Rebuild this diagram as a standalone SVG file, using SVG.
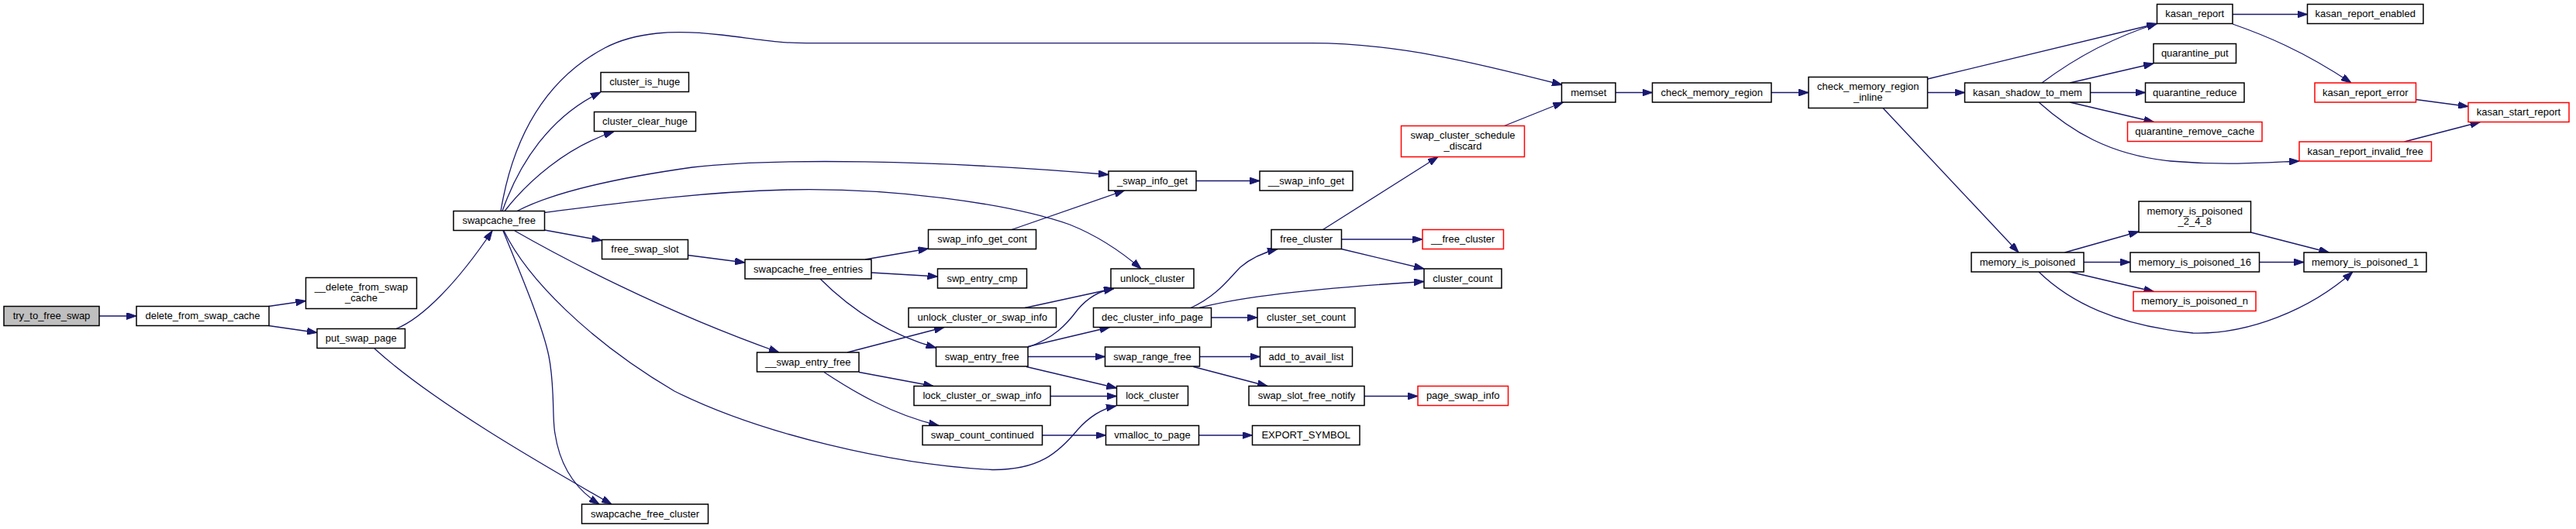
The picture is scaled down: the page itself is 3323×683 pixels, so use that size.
<svg xmlns="http://www.w3.org/2000/svg" width="3323" height="683" viewBox="0 0 3323 683">
<style>
.n rect{fill:#fff;stroke:#000;stroke-width:1.5}
.r rect{stroke:#f00}
.root rect{fill:#bfbfbf}
text{font-family:"Liberation Sans",Arial,Helvetica,sans-serif;font-size:13px;text-anchor:middle;fill:#000}
.e path{fill:none;stroke:#191970;stroke-width:1.3;marker-end:url(#a)}
</style>
<defs>
<marker id="a" markerUnits="userSpaceOnUse" viewBox="0 0 13 9" markerWidth="13" markerHeight="9" refX="13" refY="4.5" orient="auto">
<path d="M0,0 L13,4.5 L0,9 z" fill="#191970" stroke="#191970" stroke-width="1"/>
</marker>
</defs>
<rect width="3323" height="683" fill="#fff"/>
<g class="e" id="edges">
<path d="M128,408 L176,408"/>
<path d="M346.5,395.5 L394.5,388.5"/>
<path d="M346.5,420.5 L409,429.5"/>
<path d="M511,424.5 C545,411 590,365 635,298"/>
<path d="M483,450 C560,520 700,600 789,651"/>
<path d="M646,272.5 C658,200 690,110 780,62 C820,41 870,38 930,45 C980,51 1005,55.7 1040,55.7 L1692,55.7 C1800,55.7 1900,80 2015,109.5"/>
<path d="M648,272.5 C670,210 710,150 775,119"/>
<path d="M651,272.5 C680,235 730,190 792,170"/>
<path d="M667,272.5 C710,250 780,232 893,216 C1000,204 1200,206 1430,225.5"/>
<path d="M702,274.5 C800,262 900,248 1015,245 C1150,242 1300,262 1380,290 C1420,306 1450,328 1472,347"/>
<path d="M702.5,297 L776.5,310.5"/>
<path d="M664,298 C720,330 850,400 1005,455"/>
<path d="M650,298 C680,360 760,440 870,505 C980,560 1150,600 1280,606.5 C1340,607 1365,585 1390,555 C1405,538 1420,528 1440,524"/>
<path d="M649,298 C670,350 700,420 708,460 C716,500 712,540 716,560 C722,600 740,630 773,651"/>
<path d="M887.5,329.5 L961,339"/>
<path d="M1116,335 L1197.5,321"/>
<path d="M1124,352 L1209.5,357"/>
<path d="M1058,360 C1090,392 1140,430 1207.5,449"/>
<path d="M1305,296.5 L1450.5,246"/>
<path d="M1543,233.5 L1625,233.5"/>
<path d="M1093,455 L1218,422.5"/>
<path d="M1108,480.5 L1204,498.5"/>
<path d="M1063,480.5 C1100,505 1150,535 1211,549.5"/>
<path d="M1322,397.5 L1437,372.5"/>
<path d="M1326,448.5 C1360,436 1375,420 1390,400 C1405,382 1420,375 1437,372.5"/>
<path d="M1326,447.5 L1431.5,422.5"/>
<path d="M1326,460.5 L1425.5,460.5"/>
<path d="M1324,473.5 L1440.5,501"/>
<path d="M1355,511.5 L1440.5,511.5"/>
<path d="M1344.5,562 L1426.5,562"/>
<path d="M1546.5,562 L1615.5,562"/>
<path d="M1536,397.5 C1570,382 1585,360 1600,345 C1615,332 1630,326 1648,321.5"/>
<path d="M1547,397.5 C1600,383 1700,372 1837,363.5"/>
<path d="M1562.5,410 L1622,410"/>
<path d="M1547.5,460.5 L1625.5,460.5"/>
<path d="M1539.5,473.5 L1635,498.5"/>
<path d="M1760,511.5 L1829,511.5"/>
<path d="M1706.5,296.5 L1855,202.5"/>
<path d="M1730.5,309 L1835,309"/>
<path d="M1730.5,321.5 L1837,347"/>
<path d="M1940.5,162.5 L2016.5,132"/>
<path d="M2084,119.5 L2131.5,119.5"/>
<path d="M2285,119.5 L2333,119.5"/>
<path d="M2486.5,102 L2782.5,30.5"/>
<path d="M2486.5,119.5 L2534.5,119.5"/>
<path d="M2429,139.5 L2604,326"/>
<path d="M2634,107 C2670,80 2720,50 2782.5,30.5"/>
<path d="M2670,107 L2778,82"/>
<path d="M2696.5,119.5 L2767.5,119.5"/>
<path d="M2670,132 L2778.5,157.5"/>
<path d="M2630,132 C2670,168 2720,200 2800,208 C2870,214 2920,210 2966,208"/>
<path d="M2880,18.5 L2976.5,18.5"/>
<path d="M2880,31 C2920,45 2970,65 3033,107"/>
<path d="M3116.5,128.5 L3184,137.5"/>
<path d="M3101.5,183 L3199.5,157.5"/>
<path d="M2663.5,326 L2759,299"/>
<path d="M2688,338.5 L2748,338.5"/>
<path d="M2670,351 L2778.5,376.5"/>
<path d="M2630,351 C2670,390 2730,420 2829,430 C2900,432 2980,400 3035,351"/>
<path d="M2903.5,300 L3004.5,326"/>
<path d="M2914.5,338.5 L2972,338.5"/>
</g>
<g class="n root" id="try_to_free_swap"><rect x="5" y="395.5" width="123" height="25"/><text x="66.5" y="412">try_to_free_swap</text></g>
<g class="n" id="delete_from_swap_cache"><rect x="176" y="395.5" width="171" height="25"/><text x="261.5" y="412">delete_from_swap_cache</text></g>
<g class="n" id="__delete_from_swap_cache"><rect x="394.5" y="358.5" width="143" height="40"/><text x="466" y="375">__delete_from_swap</text><text x="466" y="388.5">_cache</text></g>
<g class="n" id="put_swap_page"><rect x="409" y="424.5" width="113.5" height="25"/><text x="465.75" y="441">put_swap_page</text></g>
<g class="n" id="swapcache_free"><rect x="585" y="272.5" width="117.5" height="25"/><text x="643.75" y="289">swapcache_free</text></g>
<g class="n" id="cluster_is_huge"><rect x="775" y="93.5" width="113.5" height="25"/><text x="831.75" y="110">cluster_is_huge</text></g>
<g class="n" id="cluster_clear_huge"><rect x="766.5" y="144.5" width="131" height="25"/><text x="832" y="161">cluster_clear_huge</text></g>
<g class="n" id="free_swap_slot"><rect x="776.5" y="309.5" width="111" height="25"/><text x="832" y="326">free_swap_slot</text></g>
<g class="n" id="swapcache_free_cluster"><rect x="750.5" y="651" width="163" height="25"/><text x="832" y="667.5">swapcache_free_cluster</text></g>
<g class="n" id="swapcache_free_entries"><rect x="961" y="335" width="163" height="25"/><text x="1042.5" y="351.5">swapcache_free_entries</text></g>
<g class="n" id="__swap_entry_free"><rect x="976.5" y="455" width="131.5" height="25"/><text x="1042.25" y="471.5">__swap_entry_free</text></g>
<g class="n" id="swap_info_get_cont"><rect x="1197.5" y="296.5" width="139" height="25"/><text x="1267" y="313">swap_info_get_cont</text></g>
<g class="n" id="swp_entry_cmp"><rect x="1209.5" y="347" width="115" height="25"/><text x="1267" y="363.5">swp_entry_cmp</text></g>
<g class="n" id="unlock_cluster_or_swap_info"><rect x="1172" y="397.5" width="190.5" height="25"/><text x="1267.25" y="414">unlock_cluster_or_swap_info</text></g>
<g class="n" id="swap_entry_free"><rect x="1207.5" y="448" width="118.5" height="25"/><text x="1266.75" y="464.5">swap_entry_free</text></g>
<g class="n" id="lock_cluster_or_swap_info"><rect x="1179" y="498.5" width="176" height="25"/><text x="1267" y="515">lock_cluster_or_swap_info</text></g>
<g class="n" id="swap_count_continued"><rect x="1190" y="549.5" width="154.5" height="25"/><text x="1267.25" y="566">swap_count_continued</text></g>
<g class="n" id="_swap_info_get"><rect x="1430" y="221" width="113" height="25"/><text x="1486.5" y="237.5">_swap_info_get</text></g>
<g class="n" id="unlock_cluster"><rect x="1433" y="347" width="107" height="25"/><text x="1486.5" y="363.5">unlock_cluster</text></g>
<g class="n" id="dec_cluster_info_page"><rect x="1410.5" y="397.5" width="152" height="25"/><text x="1486.5" y="414">dec_cluster_info_page</text></g>
<g class="n" id="swap_range_free"><rect x="1425.5" y="448" width="122" height="25"/><text x="1486.5" y="464.5">swap_range_free</text></g>
<g class="n" id="lock_cluster"><rect x="1440.5" y="498.5" width="92" height="25"/><text x="1486.5" y="515">lock_cluster</text></g>
<g class="n" id="vmalloc_to_page"><rect x="1426.5" y="549.5" width="120" height="25"/><text x="1486.5" y="566">vmalloc_to_page</text></g>
<g class="n" id="__swap_info_get"><rect x="1625" y="221" width="120" height="25"/><text x="1685" y="237.5">__swap_info_get</text></g>
<g class="n" id="free_cluster"><rect x="1640" y="296.5" width="90.5" height="25"/><text x="1685.25" y="313">free_cluster</text></g>
<g class="n" id="cluster_set_count"><rect x="1622" y="397.5" width="126" height="25"/><text x="1685" y="414">cluster_set_count</text></g>
<g class="n" id="add_to_avail_list"><rect x="1625.5" y="448" width="119" height="25"/><text x="1685" y="464.5">add_to_avail_list</text></g>
<g class="n" id="swap_slot_free_notify"><rect x="1611" y="498.5" width="149" height="25"/><text x="1685.5" y="515">swap_slot_free_notify</text></g>
<g class="n" id="EXPORT_SYMBOL"><rect x="1615.5" y="549.5" width="138.5" height="25"/><text x="1684.75" y="566">EXPORT_SYMBOL</text></g>
<g class="n r" id="swap_cluster_schedule_discard"><rect x="1807.5" y="162.5" width="159" height="40"/><text x="1887" y="179">swap_cluster_schedule</text><text x="1887" y="192.5">_discard</text></g>
<g class="n r" id="__free_cluster"><rect x="1835" y="296.5" width="104.5" height="25"/><text x="1887.25" y="313">__free_cluster</text></g>
<g class="n" id="cluster_count"><rect x="1837" y="347" width="100" height="25"/><text x="1887" y="363.5">cluster_count</text></g>
<g class="n r" id="page_swap_info"><rect x="1829" y="498.5" width="116.5" height="25"/><text x="1887.25" y="515">page_swap_info</text></g>
<g class="n" id="memset"><rect x="2014.5" y="107" width="69.5" height="25"/><text x="2049.25" y="123.5">memset</text></g>
<g class="n" id="check_memory_region"><rect x="2131.5" y="107" width="153.5" height="25"/><text x="2208.25" y="123.5">check_memory_region</text></g>
<g class="n" id="check_memory_region_inline"><rect x="2333" y="99.5" width="153.5" height="40"/><text x="2409.75" y="116">check_memory_region</text><text x="2409.75" y="129.5">_inline</text></g>
<g class="n" id="kasan_shadow_to_mem"><rect x="2534.5" y="107" width="162" height="25"/><text x="2615.5" y="123.5">kasan_shadow_to_mem</text></g>
<g class="n" id="memory_is_poisoned"><rect x="2543" y="326" width="145" height="25"/><text x="2615.5" y="342.5">memory_is_poisoned</text></g>
<g class="n" id="kasan_report"><rect x="2782.5" y="5.5" width="97.5" height="25"/><text x="2831.25" y="22">kasan_report</text></g>
<g class="n" id="quarantine_put"><rect x="2778" y="56.5" width="106.5" height="25"/><text x="2831.25" y="73">quarantine_put</text></g>
<g class="n" id="quarantine_reduce"><rect x="2767.5" y="107" width="127.5" height="25"/><text x="2831.25" y="123.5">quarantine_reduce</text></g>
<g class="n r" id="quarantine_remove_cache"><rect x="2744.5" y="157.5" width="173.5" height="25"/><text x="2831.25" y="174">quarantine_remove_cache</text></g>
<g class="n" id="memory_is_poisoned_2_4_8"><rect x="2759" y="260" width="144.5" height="40"/><text x="2831.25" y="276.5">memory_is_poisoned</text><text x="2831.25" y="290">_2_4_8</text></g>
<g class="n" id="memory_is_poisoned_16"><rect x="2748" y="326" width="166.5" height="25"/><text x="2831.25" y="342.5">memory_is_poisoned_16</text></g>
<g class="n r" id="memory_is_poisoned_n"><rect x="2752" y="376.5" width="158" height="25"/><text x="2831" y="393">memory_is_poisoned_n</text></g>
<g class="n" id="kasan_report_enabled"><rect x="2976.5" y="5.5" width="149.5" height="25"/><text x="3051.25" y="22">kasan_report_enabled</text></g>
<g class="n r" id="kasan_report_error"><rect x="2986" y="107" width="130.5" height="25"/><text x="3051.25" y="123.5">kasan_report_error</text></g>
<g class="n r" id="kasan_report_invalid_free"><rect x="2966" y="183" width="170.5" height="25"/><text x="3051.25" y="199.5">kasan_report_invalid_free</text></g>
<g class="n" id="memory_is_poisoned_1"><rect x="2972" y="326" width="158" height="25"/><text x="3051" y="342.5">memory_is_poisoned_1</text></g>
<g class="n r" id="kasan_start_report"><rect x="3184" y="132.5" width="130" height="25"/><text x="3249" y="149">kasan_start_report</text></g>
</svg>
